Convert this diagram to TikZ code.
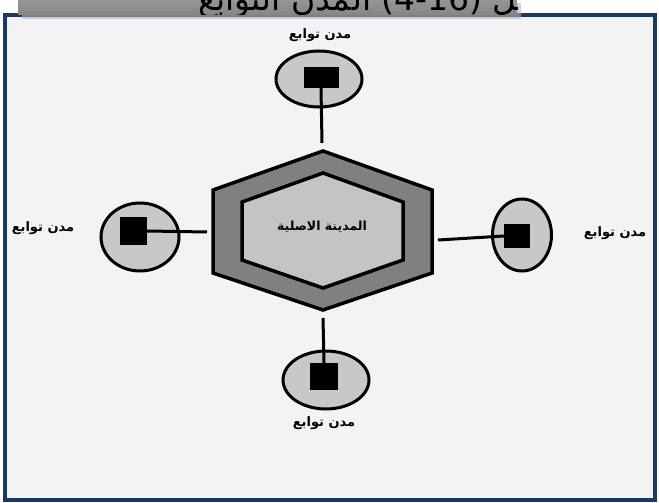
\documentclass[tikz,border=0pt]{standalone}
\usepackage{fontspec}
\setmainfont{DejaVu Sans}
\newfontfamily\arabicfont[Script=Arabic]{DejaVu Sans}
\newfontfamily\latinfont{DejaVu Sans}
\TeXXeTstate=1
\usetikzlibrary{shapes.geometric}
\definecolor{framebl}{HTML}{1B3A63}
\definecolor{bgpaper}{HTML}{F3F3F3}
\definecolor{hexout}{HTML}{808080}
\definecolor{hexin}{HTML}{C4C4C4}
\definecolor{satfill}{HTML}{C8C8C8}
\tikzset{
  sat/.style={draw=black, line width=3pt, fill=satfill, ellipse},
  core/.style={fill=black, draw=none},
  link/.style={line width=3pt, draw=black},
  hexa/.style={draw=black, line width=3.5pt, line join=miter},
  lbl/.style={font=\arabicfont\bfseries\fontsize{13}{15}\selectfont, inner sep=0pt},
  ttl/.style={inner sep=0pt, font=\fontsize{33}{38}\selectfont},
}
\begin{document}
\begin{tikzpicture}[x=1pt,y=-1pt]
\useasboundingbox (0,0) rectangle (659,503);
% frame
\fill[bgpaper] (5,15) rectangle (655,500);
\draw[framebl, line width=4pt] (5,15) rectangle (655,500);
% title bar (clipped)
\fill[black!30, opacity=0.6] (22,3) rectangle (521,19);
\begin{scope}
\clip (18,0) rectangle (517,15);
\shade[top color=gray!75, bottom color=gray!95] (18,-10) rectangle (517,15);
\node[ttl, anchor=base] (titleNum) at (432,11) {\latinfont (4-16)};
\node[ttl, anchor=base west, xshift=10pt] (titleR) at (titleNum.base east) {\arabicfont\beginR شكل\endR};
\node[ttl, anchor=base east, xshift=-10pt] (titleL) at (titleNum.base west) {\arabicfont\beginR المدن التوابع\endR};
\end{scope}
% hexagons
\draw[hexa, fill=hexout]
 (323,151) -- (432,190) -- (432,273) -- (323,310) -- (213,273) -- (213,190) -- cycle;
\draw[hexa, fill=hexin]
 (323,173) -- (403,202) -- (403,260) -- (323,288) -- (242,260) -- (242,202) -- cycle;
\node[lbl, font=\arabicfont\bfseries\fontsize{12.5}{14}\selectfont] (city) at (322,227) {\beginR المدينة الاصلية\endR};
\coordinate (hexT) at (322,143);
\coordinate (hexB) at (323,318);
\coordinate (hexL) at (207,232);
\coordinate (hexR) at (438,240);
% top satellite
\node[sat, minimum width=86pt, minimum height=56pt] (topE) at (319,79) {};
\node[core, minimum width=35pt, minimum height=21pt, inner sep=0pt] (topS) at (321,77.5) {};
\draw[link] (topS.south) -- (hexT);
\node[lbl] (topL) at (320,35) {\beginR مدن توابع\endR};
% bottom satellite
\node[sat, minimum width=86pt, minimum height=58pt] (botE) at (326,380) {};
\node[core, minimum width=28pt, minimum height=27pt, inner sep=0pt] (botS) at (324,376.5) {};
\draw[link] (hexB) -- (botS.north);
\node[lbl] (botL) at (324,423) {\beginR مدن توابع\endR};
% left satellite
\node[sat, minimum width=78pt, minimum height=68pt] (leftE) at (140,237) {};
\node[core, minimum width=27pt, minimum height=28pt, inner sep=0pt] (leftS) at (133.5,231) {};
\draw[link] (leftS.east) -- (hexL);
\node[lbl] (leftL) at (43,228) {\beginR مدن توابع\endR};
% right satellite
\node[sat, minimum width=59pt, minimum height=72pt] (rightE) at (522,235) {};
\node[core, minimum width=26pt, minimum height=24pt, inner sep=0pt] (rightS) at (517,236) {};
\draw[link] (hexR) -- (rightS.west);
\node[lbl] (rightL) at (615,233) {\beginR مدن توابع\endR};
\end{tikzpicture}
\end{document}
